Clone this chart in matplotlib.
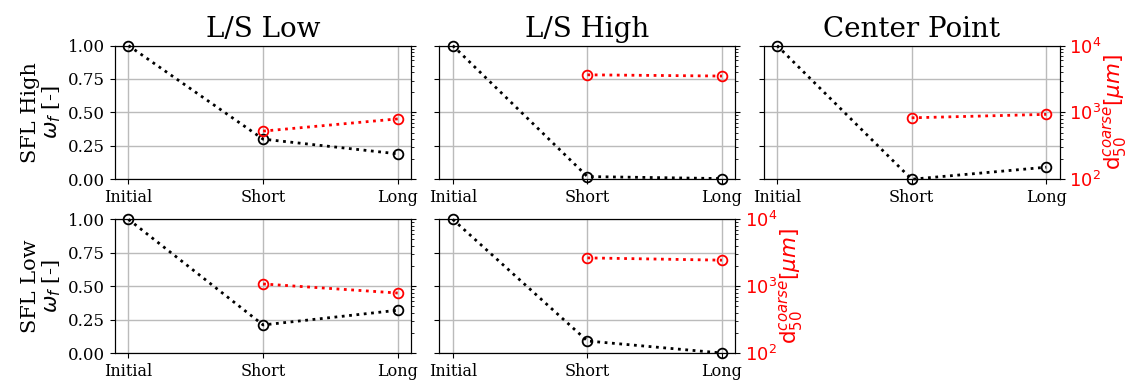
import numpy as np
import matplotlib
matplotlib.use("Agg")
import matplotlib.pyplot as plt

plt.rcParams['font.family'] = 'DejaVu Serif'
plt.rcParams['mathtext.fontset'] = 'dejavusans'

stages = ['Initial', 'Short', 'Long']
cases = ['L/S Low', 'L/S High', 'Center Point']
rows = ['SFL High', 'SFL Low']

# omega_f (fraction) per panel, keyed by (row, case)
omega = {
    ('SFL High', 'L/S Low'): [1.0, 0.30, 0.19],
    ('SFL High', 'L/S High'): [1.0, 0.02, 0.005],
    ('SFL High', 'Center Point'): [1.0, 0.0, 0.09],
    ('SFL Low', 'L/S Low'): [1.0, 0.21, 0.32],
    ('SFL Low', 'L/S High'): [1.0, 0.09, 0.0],
}
# d50 coarse in micrometres (Short, Long)
d50 = {
    ('SFL High', 'L/S Low'): [525, 800],
    ('SFL High', 'L/S High'): [3650, 3500],
    ('SFL High', 'Center Point'): [830, 935],
    ('SFL Low', 'L/S Low'): [1080, 790],
    ('SFL Low', 'L/S High'): [2650, 2450],
}

fig, axes = plt.subplots(2, 3, figsize=(11.31, 3.83), dpi=100)
fig.subplots_adjust(left=0.1017, right=0.937, top=0.881, bottom=0.0783,
                    wspace=0.095, hspace=0.30)

x = np.arange(len(stages))
for i, r in enumerate(rows):
    for j, c in enumerate(cases):
        ax = axes[i, j]
        key = (r, c)
        if key not in omega:
            ax.remove()
            continue
        ax.plot(x, omega[key], ':', color='k', lw=2, marker='o', ms=7,
                mfc='none', mec='k', mew=1.3, clip_on=False, zorder=3)
        ax.set_ylim(0, 1)
        ax.set_xlim(-0.1, 2.1)
        ax.set_xticks(x)
        ax.set_xticklabels(stages, fontsize=11.5)
        ax.set_yticks([0, 0.25, 0.5, 0.75, 1.0])
        ax.grid(True, color='#bbbbbb', lw=1)
        if j == 0:
            ax.set_yticklabels(['0.00', '0.25', '0.50', '0.75', '1.00'], fontsize=12)
            ax.set_ylabel(r + '\n' + r'$\omega_f$ [-]', fontsize=15, linespacing=1.0)
        else:
            ax.set_yticklabels([])
        if i == 0:
            ax.set_title(c, fontsize=20)

        tw = ax.twinx()
        tw.plot(x[1:], d50[key], ':', color='red', lw=2, marker='o', ms=7,
                mfc='none', mec='red', mew=1.3)
        tw.set_yscale('log')
        tw.set_ylim(1e2, 1e4)
        last = (i == 0 and j == 2) or (i == 1 and j == 1)
        if last:
            tw.tick_params(axis='y', labelcolor='red', labelsize=13)
            for lab in tw.get_yticklabels():
                lab.set_fontfamily('DejaVu Sans')
            tw.set_ylabel(r'd$_{50}^{coarse}[\mu m]$', color='red', fontsize=15.5,
                          family='DejaVu Sans', labelpad=0)
        else:
            tw.set_yticklabels([])
            tw.yaxis.set_minor_formatter(matplotlib.ticker.NullFormatter())

fig.savefig('out.png', dpi=100)
